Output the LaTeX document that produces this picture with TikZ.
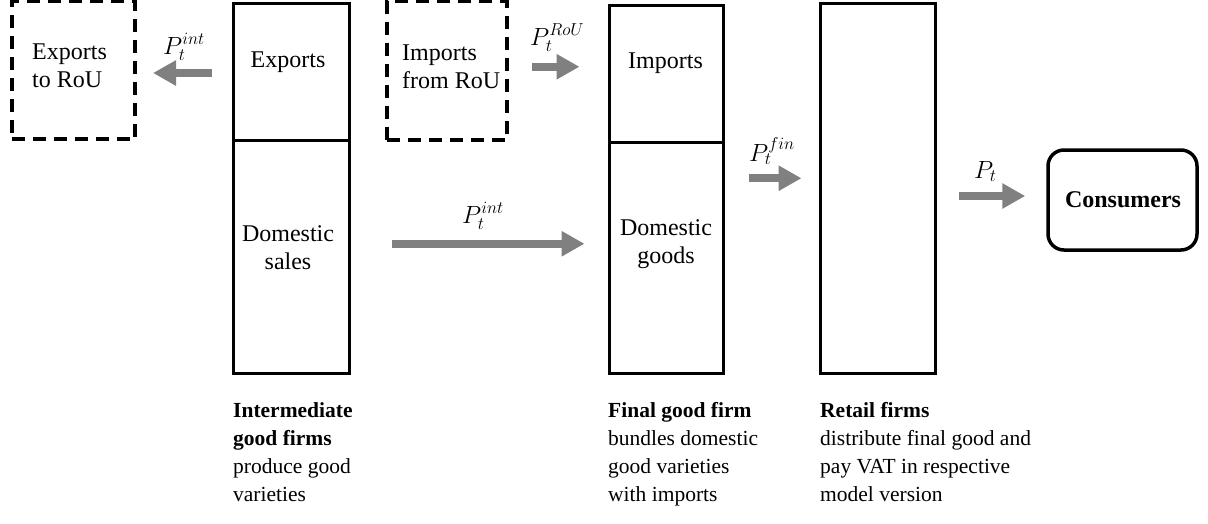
\documentclass[tikz,border=0pt]{standalone}
\usepackage{fontspec}
\setmainfont{Liberation Serif}
\usetikzlibrary{arrows.meta}
\definecolor{arrowgray}{RGB}{128,128,128}
\begin{document}
\begin{tikzpicture}[x=1pt,y=-1pt,
  every node/.style={font=\fontsize{24}{27.5}\selectfont},
  colbox/.style={draw, line width=3pt, rectangle, inner sep=0pt},
  dashbox/.style={draw, line width=4pt, dash pattern=on 13pt off 8pt, rectangle, inner sep=0pt},
  flow/.style={draw=arrowgray, line width=8pt, -{Triangle[length=23pt,width=24pt]}},
  txt/.style={inner sep=0pt, anchor=base},
  txtl/.style={inner sep=0pt, anchor=base west, align=left},
  price/.style={inner sep=0pt, anchor=base west, font=\fontsize{26}{30}\selectfont},
  caption/.style={inner sep=0pt, anchor=base west, align=left, font=\fontsize{21.5}{27.7}\selectfont}
]
\useasboundingbox (0,0) rectangle (1208,523);
% dashed boxes
\node[dashbox, minimum width=123.5pt, minimum height=138pt] (expRoU) at (73.25,70) {};
\node[dashbox, minimum width=120pt, minimum height=138.5pt] (impRoU) at (446.5,70.25) {};
\node[txtl] (tExpRoU) at (32,87) {Exports\\to RoU};
\node[txtl] (tImpRoU) at (402,88) {Imports\\from RoU};
% intermediate column
\node[colbox, minimum width=116pt, minimum height=137pt] (intExp) at (291,72) {};
\node[colbox, minimum width=116pt, minimum height=232.5pt] (intDom) at (291,256.75) {};
\node[txt] (tExp) at (288,67) {Exports};
\node[txt, align=center] (tDomSales) at (288,269) {Domestic\\sales};
% final column
\node[colbox, minimum width=114.5pt, minimum height=137pt] (finImp) at (666.25,73.5) {};
\node[colbox, minimum width=114.5pt, minimum height=231pt] (finDom) at (666.25,257.5) {};
\node[txt] (tImp) at (665.5,68) {Imports};
\node[txt, align=center] (tDomGoods) at (666,263) {Domestic\\goods};
% retail column
\node[colbox, minimum width=115pt, minimum height=369.5pt] (retail) at (877.5,188.25) {};
% consumers
\node[draw, line width=3.5pt, rounded corners=16pt, minimum width=149pt, minimum height=100pt, inner sep=0pt] (cons) at (1122.5,200) {};
\node[txt] (tCons) at (1123,207) {\textbf{Consumers}};
% arrows
\draw[flow, shorten <=20pt, shorten >=16pt] ([yshift=-1pt]intExp.west) -- ([yshift=-1pt]intExp.west -| expRoU.east);
\draw[flow, shorten <=23.5pt, shorten >=28pt] ([yshift=3.5pt]impRoU.east) -- ([yshift=3.5pt]impRoU.east -| finImp.west);
\draw[flow, shorten <=41pt, shorten >=23pt] ([yshift=13pt]intDom.east) -- ([yshift=13pt]intDom.east -| finDom.west);
\draw[flow, shorten <=23.5pt, shorten >=17pt] ([yshift=10pt]retail.west -| finDom.east) -- ([yshift=10pt]retail.west);
\draw[flow, shorten <=22pt, shorten >=21pt] ([yshift=4pt]cons.west -| retail.east) -- ([yshift=4pt]cons.west);
% price labels
\node[price] (pInt1) at (163,54) {$P_t^{int}$};
\node[price] (pRoU) at (530,45) {$P_t^{RoU}$};
\node[price] (pInt2) at (462,223) {$P_t^{int}$};
\node[price] (pFin) at (749,161) {$P_t^{fin}$};
\node[price] (pT) at (974,178) {$P_t$};
% captions
\node[caption] (capInt) at (233,501) {\textbf{Intermediate}\\\textbf{good firms}\\produce good\\varieties};
\node[caption] (capFin) at (608,501) {\textbf{Final good firm}\\bundles domestic\\good varieties\\with imports};
\node[caption] (capRet) at (820,501) {\textbf{Retail firms}\\distribute final good and\\pay VAT in respective\\model version};
\end{tikzpicture}
\end{document}
